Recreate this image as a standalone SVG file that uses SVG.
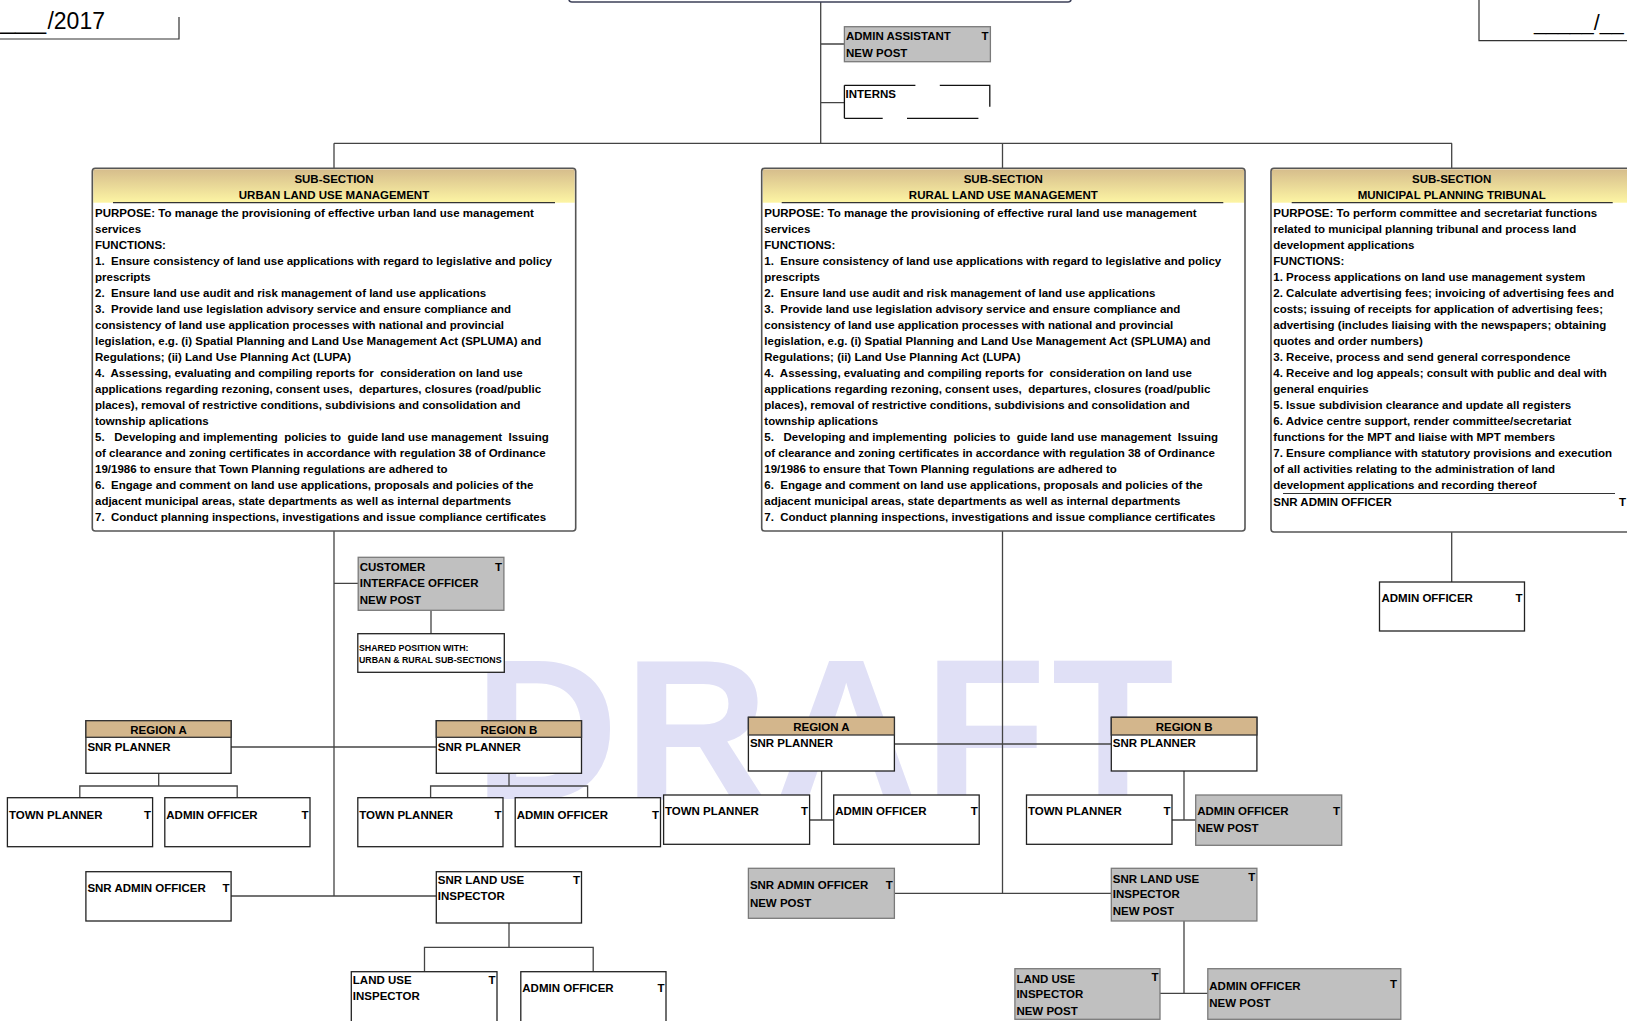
<svg xmlns="http://www.w3.org/2000/svg" width="1627" height="1021" viewBox="0 0 1627 1021">
<defs>
<linearGradient id="hdr" x1="0" y1="0" x2="0" y2="1">
<stop offset="0" stop-color="#d6bd8c"/>
<stop offset="1" stop-color="#fdf5a4"/>
</linearGradient>
<style>
.t{font-family:"Liberation Sans",Arial,sans-serif;font-weight:bold;font-size:11.5px;fill:#000}
.e{text-anchor:end}
.m{text-anchor:middle}
.sm{font-size:8.8px}
.big{font-family:"Liberation Sans",Arial,sans-serif;font-size:23px;fill:#000}
.box{fill:#fff;stroke:#222;stroke-width:1.3}
.gbox{fill:#c0c0c0;stroke:#7a7a7a;stroke-width:1.3}
.reg{fill:#d3b68c;stroke:#333;stroke-width:1.3}
.sec{fill:none;stroke:#555;stroke-width:1.6}
.ln{fill:none;stroke:#444;stroke-width:1.3}
.ul{fill:none;stroke:#333;stroke-width:1.2}
</style>
</defs>
<rect width="1627" height="1021" fill="#fff"/>
<text x="474" y="799" font-family="Liberation Sans,Arial,sans-serif" font-weight="bold" font-size="200" fill="#e0e0f6" textLength="700" lengthAdjust="spacing">DRAFT</text>

<g id="date-left">
<text class="big" x="0" y="28.5" textLength="46" lengthAdjust="spacingAndGlyphs">___</text>
<text class="big e" x="105" y="28.5">/2017</text>
<path class="ul" d="M0,39 H179 V17"/>
</g>
<g id="date-right">
<text class="big" x="1534" y="30" style="font-size:21.5px">_____/__</text>
<path class="ul" d="M1479,0 V40.7 H1627"/>
</g>

<g id="connectors" class="ln">
<path d="M820.7,2 V143.3 M820.7,44 H844.4 M820.7,102.7 H844.4"/>
<path d="M334,143.3 H1452 M334,143.3 V168 M1002.5,143.3 V168 M1451.7,143.3 V168"/>
<path d="M334,531 V896 M334,583.3 H358.2 M431,610.3 V633.7"/>
<path d="M231,747 H436.3"/>
<path d="M158.7,773.3 V786 M79.8,797.7 V786 H237.2 V797.7"/>
<path d="M509,773.3 V786 M430.6,797.7 V786 H587.6 V797.7"/>
<path d="M231,896 H436.3"/>
<path d="M509,923 V947.3 M424.5,971.7 V947.3 H593.2 V971.7"/>
<path d="M1002.5,531 V893.3 M894.4,744 H1111.3"/>
<path d="M821.6,771 V820 M809.6,820 H833.7"/>
<path d="M1184,771 V820 M1172,820 H1195.7"/>
<path d="M894.4,893.3 H1111.3"/>
<path d="M1184,921 V993.3 M1160,993.3 H1207.8"/>
<path d="M1451.7,532 V582"/>
</g>

<g id="top-box">
<rect x="569" y="-20" width="502" height="22" rx="3" fill="#fff" stroke="#3c4058" stroke-width="1.6"/>
</g>

<g id="admin-assistant">
<rect class="gbox" x="844.4" y="26.7" width="146" height="35"/>
<text class="t" x="846" y="40">ADMIN ASSISTANT</text>
<text class="t e" x="988.5" y="40">T</text>
<text class="t" x="846" y="56.7">NEW POST</text>
</g>

<g id="interns">
<path fill="none" stroke="#111" stroke-width="1.3" d="M844.4,85.3 V118.3 M844.4,85.3 H915.4 M939.8,85.3 H989.8 V106.7 M844.4,118.3 H882.7 M907,118.3 H978.4"/>
<text class="t" x="845.5" y="98.3">INTERNS</text>
</g>

<g id="urban-section">
<rect x="92.3" y="168.3" width="483.4" height="362.7" rx="3" fill="#fff"/>
<rect x="93.3" y="169.3" width="481.4" height="33.4" fill="url(#hdr)"/>
<line class="ul" x1="113" y1="202.7" x2="555" y2="202.7"/>
<rect class="sec" x="92.3" y="168.3" width="483.4" height="362.7" rx="3"/>
<text class="t m" x="334" y="182.7">SUB-SECTION</text>
<text class="t m" x="334" y="199">URBAN LAND USE MANAGEMENT</text>
<text class="t" xml:space="preserve">
<tspan x="95" y="216.7">PURPOSE: To manage the provisioning of effective urban land use management</tspan>
<tspan x="95" y="232.7">services</tspan>
<tspan x="95" y="248.7">FUNCTIONS:</tspan>
<tspan x="95" y="264.7">1.  Ensure consistency of land use applications with regard to legislative and policy</tspan>
<tspan x="95" y="280.7">prescripts</tspan>
<tspan x="95" y="296.7">2.  Ensure land use audit and risk management of land use applications</tspan>
<tspan x="95" y="312.7">3.  Provide land use legislation advisory service and ensure compliance and</tspan>
<tspan x="95" y="328.7">consistency of land use application processes with national and provincial</tspan>
<tspan x="95" y="344.7">legislation, e.g. (i) Spatial Planning and Land Use Management Act (SPLUMA) and</tspan>
<tspan x="95" y="360.7">Regulations; (ii) Land Use Planning Act (LUPA)</tspan>
<tspan x="95" y="376.7">4.  Assessing, evaluating and compiling reports for  consideration on land use</tspan>
<tspan x="95" y="392.7">applications regarding rezoning, consent uses,  departures, closures (road/public</tspan>
<tspan x="95" y="408.7">places), removal of restrictive conditions, subdivisions and consolidation and</tspan>
<tspan x="95" y="424.7">township aplications</tspan>
<tspan x="95" y="440.7">5.   Developing and implementing  policies to  guide land use management  Issuing</tspan>
<tspan x="95" y="456.7">of clearance and zoning certificates in accordance with regulation 38 of Ordinance</tspan>
<tspan x="95" y="472.7">19/1986 to ensure that Town Planning regulations are adhered to</tspan>
<tspan x="95" y="488.7">6.  Engage and comment on land use applications, proposals and policies of the</tspan>
<tspan x="95" y="504.7">adjacent municipal areas, state departments as well as internal departments</tspan>
<tspan x="95" y="520.7">7.  Conduct planning inspections, investigations and issue compliance certificates</tspan>
</text>
</g>

<g id="rural-section">
<rect x="761.7" y="168.3" width="483.3" height="362.7" rx="3" fill="#fff"/>
<rect x="762.7" y="169.3" width="481.3" height="33.4" fill="url(#hdr)"/>
<line class="ul" x1="781.7" y1="202.7" x2="1223.3" y2="202.7"/>
<rect class="sec" x="761.7" y="168.3" width="483.3" height="362.7" rx="3"/>
<text class="t m" x="1003.3" y="182.7">SUB-SECTION</text>
<text class="t m" x="1003.3" y="199">RURAL LAND USE MANAGEMENT</text>
<text class="t" xml:space="preserve">
<tspan x="764.3" y="216.7">PURPOSE: To manage the provisioning of effective rural land use management</tspan>
<tspan x="764.3" y="232.7">services</tspan>
<tspan x="764.3" y="248.7">FUNCTIONS:</tspan>
<tspan x="764.3" y="264.7">1.  Ensure consistency of land use applications with regard to legislative and policy</tspan>
<tspan x="764.3" y="280.7">prescripts</tspan>
<tspan x="764.3" y="296.7">2.  Ensure land use audit and risk management of land use applications</tspan>
<tspan x="764.3" y="312.7">3.  Provide land use legislation advisory service and ensure compliance and</tspan>
<tspan x="764.3" y="328.7">consistency of land use application processes with national and provincial</tspan>
<tspan x="764.3" y="344.7">legislation, e.g. (i) Spatial Planning and Land Use Management Act (SPLUMA) and</tspan>
<tspan x="764.3" y="360.7">Regulations; (ii) Land Use Planning Act (LUPA)</tspan>
<tspan x="764.3" y="376.7">4.  Assessing, evaluating and compiling reports for  consideration on land use</tspan>
<tspan x="764.3" y="392.7">applications regarding rezoning, consent uses,  departures, closures (road/public</tspan>
<tspan x="764.3" y="408.7">places), removal of restrictive conditions, subdivisions and consolidation and</tspan>
<tspan x="764.3" y="424.7">township aplications</tspan>
<tspan x="764.3" y="440.7">5.   Developing and implementing  policies to  guide land use management  Issuing</tspan>
<tspan x="764.3" y="456.7">of clearance and zoning certificates in accordance with regulation 38 of Ordinance</tspan>
<tspan x="764.3" y="472.7">19/1986 to ensure that Town Planning regulations are adhered to</tspan>
<tspan x="764.3" y="488.7">6.  Engage and comment on land use applications, proposals and policies of the</tspan>
<tspan x="764.3" y="504.7">adjacent municipal areas, state departments as well as internal departments</tspan>
<tspan x="764.3" y="520.7">7.  Conduct planning inspections, investigations and issue compliance certificates</tspan>
</text>
</g>

<g id="mpt-section">
<rect x="1271" y="168.3" width="361.4" height="363.7" rx="3" fill="#fff"/>
<rect x="1272" y="169.3" width="359.4" height="33.4" fill="url(#hdr)"/>
<line class="ul" x1="1291.7" y1="202.7" x2="1612.7" y2="202.7"/>
<line class="ul" x1="1283" y1="493.5" x2="1615" y2="493.5"/>
<rect class="sec" x="1271" y="168.3" width="361.4" height="363.7" rx="3"/>
<text class="t m" x="1451.7" y="182.7">SUB-SECTION</text>
<text class="t m" x="1451.7" y="199">MUNICIPAL PLANNING TRIBUNAL</text>
<text class="t" xml:space="preserve">
<tspan x="1273.3" y="216.7">PURPOSE: To perform committee and secretariat functions</tspan>
<tspan x="1273.3" y="232.7">related to municipal planning tribunal and process land</tspan>
<tspan x="1273.3" y="248.7">development applications</tspan>
<tspan x="1273.3" y="264.7">FUNCTIONS:</tspan>
<tspan x="1273.3" y="280.7">1. Process applications on land use management system</tspan>
<tspan x="1273.3" y="296.7">2. Calculate advertising fees; invoicing of advertising fees and</tspan>
<tspan x="1273.3" y="312.7">costs; issuing of receipts for application of advertising fees;</tspan>
<tspan x="1273.3" y="328.7">advertising (includes liaising with the newspapers; obtaining</tspan>
<tspan x="1273.3" y="344.7">quotes and order numbers)</tspan>
<tspan x="1273.3" y="360.7">3. Receive, process and send general correspondence</tspan>
<tspan x="1273.3" y="376.7">4. Receive and log appeals; consult with public and deal with</tspan>
<tspan x="1273.3" y="392.7">general enquiries</tspan>
<tspan x="1273.3" y="408.7">5. Issue subdivision clearance and update all registers</tspan>
<tspan x="1273.3" y="424.7">6. Advice centre support, render committee/secretariat</tspan>
<tspan x="1273.3" y="440.7">functions for the MPT and liaise with MPT members</tspan>
<tspan x="1273.3" y="456.7">7. Ensure compliance with statutory provisions and execution</tspan>
<tspan x="1273.3" y="472.7">of all activities relating to the administration of land</tspan>
<tspan x="1273.3" y="488.7">development applications and recording thereof</tspan>
<tspan x="1273.3" y="505.5">SNR ADMIN OFFICER</tspan>
</text>
<text class="t" x="1619" y="505.5">T</text>
</g>

<g id="mpt-admin-officer">
<rect class="box" x="1379.5" y="582" width="145" height="49"/>
<text class="t" x="1381.5" y="602">ADMIN OFFICER</text>
<text class="t e" x="1522.5" y="602">T</text>
</g>

<g id="customer-interface-officer">
<rect class="gbox" x="358.2" y="557.3" width="145.7" height="53"/>
<text class="t" x="359.7" y="570.7">CUSTOMER</text>
<text class="t e" x="502" y="570.7">T</text>
<text class="t" x="359.7" y="586.7">INTERFACE OFFICER</text>
<text class="t" x="359.7" y="603.5">NEW POST</text>
</g>

<g id="shared-position">
<rect class="box" x="357.8" y="633.7" width="146.5" height="38.6"/>
<text class="t sm" x="359" y="650.7">SHARED POSITION WITH:</text>
<text class="t sm" x="359" y="662.7">URBAN &amp; RURAL SUB-SECTIONS</text>
</g>

<g id="urban-region-a">
<rect class="box" x="85.9" y="720.7" width="145.2" height="52.6"/>
<rect class="reg" x="85.9" y="720.7" width="145.2" height="16.6"/>
<text class="t m" x="158.5" y="734">REGION A</text>
<text class="t" x="87.4" y="750.7">SNR PLANNER</text>
</g>
<g id="urban-region-b">
<rect class="box" x="436.3" y="720.7" width="145.2" height="52.6"/>
<rect class="reg" x="436.3" y="720.7" width="145.2" height="16.6"/>
<text class="t m" x="509" y="734">REGION B</text>
<text class="t" x="437.8" y="750.7">SNR PLANNER</text>
</g>

<g id="urban-a-town-planner">
<rect class="box" x="7.4" y="797.7" width="145.2" height="49"/>
<text class="t" x="8.9" y="819">TOWN PLANNER</text>
<text class="t e" x="151" y="819">T</text>
</g>
<g id="urban-a-admin-officer">
<rect class="box" x="164.8" y="797.7" width="145.2" height="49"/>
<text class="t" x="166.3" y="819">ADMIN OFFICER</text>
<text class="t e" x="308.5" y="819">T</text>
</g>
<g id="urban-b-town-planner">
<rect class="box" x="357.8" y="797.7" width="145.2" height="49"/>
<text class="t" x="359.3" y="819">TOWN PLANNER</text>
<text class="t e" x="501.5" y="819">T</text>
</g>
<g id="urban-b-admin-officer">
<rect class="box" x="515.2" y="797.7" width="145.3" height="49"/>
<text class="t" x="516.7" y="819">ADMIN OFFICER</text>
<text class="t e" x="659" y="819">T</text>
</g>

<g id="urban-snr-admin-officer">
<rect class="box" x="85.9" y="871.7" width="145.2" height="49.3"/>
<text class="t" x="87.4" y="892.3">SNR ADMIN OFFICER</text>
<text class="t e" x="229.6" y="892.3">T</text>
</g>
<g id="urban-snr-land-use-inspector">
<rect class="box" x="436.3" y="871.7" width="145.2" height="51.3"/>
<text class="t" x="437.8" y="884.3">SNR LAND USE</text>
<text class="t e" x="580" y="884.3">T</text>
<text class="t" x="437.8" y="900">INSPECTOR</text>
</g>
<g id="urban-land-use-inspector">
<rect class="box" x="351.3" y="971.7" width="145.7" height="60"/>
<text class="t" x="352.8" y="984.3">LAND USE</text>
<text class="t e" x="495.5" y="984.3">T</text>
<text class="t" x="352.8" y="1000">INSPECTOR</text>
</g>
<g id="urban-admin-officer-2">
<rect class="box" x="520.8" y="971.7" width="145.2" height="60"/>
<text class="t" x="522.3" y="991.7">ADMIN OFFICER</text>
<text class="t e" x="664.5" y="991.7">T</text>
</g>

<g id="rural-region-a">
<rect class="box" x="748.4" y="717.3" width="146" height="53.7"/>
<rect class="reg" x="748.4" y="717.3" width="146" height="17.7"/>
<text class="t m" x="821.4" y="730.5">REGION A</text>
<text class="t" x="749.9" y="747.3">SNR PLANNER</text>
</g>
<g id="rural-region-b">
<rect class="box" x="1111.3" y="717.3" width="145.6" height="53.7"/>
<rect class="reg" x="1111.3" y="717.3" width="145.6" height="17.7"/>
<text class="t m" x="1184.1" y="730.5">REGION B</text>
<text class="t" x="1112.8" y="747.3">SNR PLANNER</text>
</g>

<g id="rural-a-town-planner">
<rect class="box" x="663.6" y="795" width="146" height="49.3"/>
<text class="t" x="665" y="815">TOWN PLANNER</text>
<text class="t e" x="808" y="815">T</text>
</g>
<g id="rural-a-admin-officer">
<rect class="box" x="833.7" y="795" width="145.5" height="49.3"/>
<text class="t" x="835.2" y="815">ADMIN OFFICER</text>
<text class="t e" x="977.7" y="815">T</text>
</g>
<g id="rural-b-town-planner">
<rect class="box" x="1026.5" y="795" width="145.5" height="49.3"/>
<text class="t" x="1028" y="815">TOWN PLANNER</text>
<text class="t e" x="1170.5" y="815">T</text>
</g>
<g id="rural-b-admin-officer">
<rect class="gbox" x="1195.7" y="795" width="146" height="50.3"/>
<text class="t" x="1197.2" y="815">ADMIN OFFICER</text>
<text class="t e" x="1340" y="815">T</text>
<text class="t" x="1197.2" y="832.3">NEW POST</text>
</g>

<g id="rural-snr-admin-officer">
<rect class="gbox" x="748.4" y="868.3" width="146" height="50"/>
<text class="t" x="749.9" y="889.3">SNR ADMIN OFFICER</text>
<text class="t e" x="892.9" y="889.3">T</text>
<text class="t" x="749.9" y="906.7">NEW POST</text>
</g>
<g id="rural-snr-land-use-inspector">
<rect class="gbox" x="1111.3" y="868.3" width="145.6" height="52.7"/>
<text class="t" x="1112.8" y="882.7">SNR LAND USE</text>
<text class="t e" x="1255.4" y="881">T</text>
<text class="t" x="1112.8" y="898">INSPECTOR</text>
<text class="t" x="1112.8" y="915">NEW POST</text>
</g>
<g id="rural-land-use-inspector">
<rect class="gbox" x="1014.9" y="968.7" width="145.1" height="50.6"/>
<text class="t" x="1016.4" y="982.7">LAND USE</text>
<text class="t e" x="1158.5" y="981">T</text>
<text class="t" x="1016.4" y="997.7">INSPECTOR</text>
<text class="t" x="1016.4" y="1015">NEW POST</text>
</g>
<g id="rural-admin-officer-2">
<rect class="gbox" x="1207.8" y="968.7" width="193" height="50.6"/>
<text class="t" x="1209.3" y="990">ADMIN OFFICER</text>
<text class="t e" x="1397" y="988">T</text>
<text class="t" x="1209.3" y="1006.7">NEW POST</text>
</g>
</svg>
